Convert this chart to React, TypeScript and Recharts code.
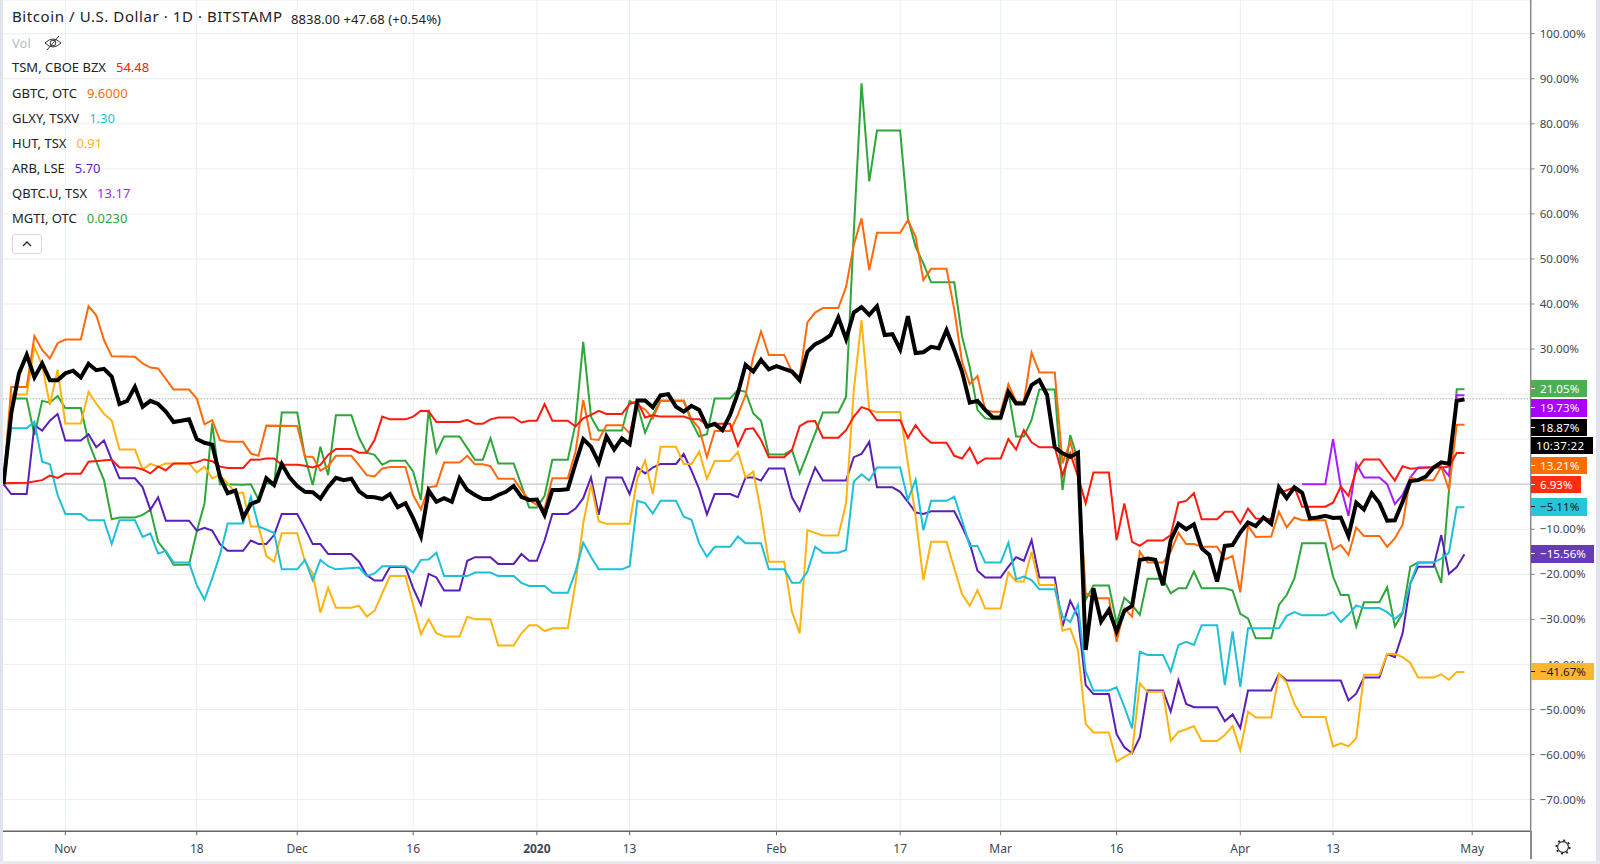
import { LineChart, Line, XAxis, YAxis, CartesianGrid, ReferenceLine } from 'recharts';

type Pt = [number, number];

// [day since 24 Oct 2019, % change]
const btc: Pt[] = [[0,0],[1,15.7],[2,24.6],[3,28.7],[4,23.7],[5,26.8],[6,23.1],[7,23.1],[8,24.6],[9,25.2],[10,23.7],[11,26.7],[12,25.3],[13,25.6],[14,23.9],[15,17.8],[16,18.5],[17,21.6],[18,17.2],[19,18.5],[20,17.8],[21,16.1],[22,13.8],[23,14.1],[24,14.4],[25,10],[26,9.2],[27,8.8],[28,1.7],[29,-2],[30,-1.4],[31,-7.4],[32,-4.4],[33,-3.7],[34,1.3],[35,-0.2],[36,4.5],[37,1.5],[38,-0.4],[39,-1.7],[40,-1.8],[41,-3.2],[42,-0.6],[43,1.4],[44,0.9],[45,1.2],[46,-1.6],[47,-2.8],[48,-2.9],[49,-3.3],[50,-2.2],[51,-5.1],[52,-4.2],[53,-7.6],[54,-11.6],[55,-1.4],[56,-3.9],[57,-3.1],[58,-3.9],[59,1.3],[60,-1.3],[61,-2.4],[62,-3.3],[63,-3.3],[64,-2.4],[65,-1.7],[66,-0.4],[67,-2.8],[68,-3.5],[69,-3.4],[70,-6.8],[71,-1.3],[72,-1.3],[73,-1.1],[74,4.6],[75,10],[76,8.3],[77,4.8],[78,10.6],[79,7.7],[80,10.2],[81,8.9],[82,18.6],[83,18.6],[84,17.1],[85,19.7],[86,20],[87,17.2],[88,16.1],[89,17.4],[90,16.5],[91,12.8],[92,13.4],[93,12],[94,15.4],[95,20.2],[96,26.5],[97,25],[98,27.6],[99,25.5],[100,26.2],[101,25.6],[102,25],[103,23.1],[104,29.4],[105,31.1],[106,31.9],[107,33.1],[108,37],[109,32.2],[110,38.1],[111,39.3],[112,37.6],[113,39.5],[114,33.1],[115,33.3],[116,29.9],[117,37.3],[118,29.1],[119,29.3],[120,30.5],[121,30.2],[122,34.2],[123,29.8],[124,25],[125,18.1],[126,18.5],[127,16.5],[128,14.8],[129,14.8],[130,20.5],[131,17.9],[132,17.9],[133,22],[134,23.1],[135,19.8],[136,8.2],[137,6.85],[138,6.1],[139,7],[140,-36.8],[141,-23.1],[142,-30.5],[143,-27.9],[144,-32.7],[145,-28.1],[146,-27],[147,-16.8],[148,-16.5],[149,-16.8],[150,-22.4],[151,-12.4],[152,-8.8],[153,-10],[154,-8.9],[155,-14.2],[156,-15.7],[157,-21.6],[158,-13.7],[159,-13.5],[160,-10.7],[161,-8.5],[162,-9.3],[163,-7.4],[164,-8.8],[165,-0.7],[166,-3.1],[167,-0.7],[168,-1.9],[169,-7.6],[170,-7.4],[171,-7],[172,-7.5],[173,-7.4],[174,-11.5],[175,-4.1],[176,-5.6],[177,-2],[178,-4.2],[179,-8.1],[180,-8],[181,-3.9],[182,0.7],[183,0.9],[184,1.7],[185,3.7],[186,4.85],[187,4.5],[188,18.5],[189,18.87]];

const tsm: Pt[] = [[0,0.2],[3,0.3],[5,0.9],[6,1.9],[7,1.4],[8,2.3],[10,2.3],[11,5],[14,5.4],[15,3.7],[17,3.7],[18,3.3],[19,2.4],[20,3.9],[21,3.1],[22,4.6],[24,4.6],[25,4.9],[26,5.5],[27,5.1],[28,3.9],[29,3.6],[31,3.6],[32,5.5],[33,5.4],[34,5.7],[35,5.7],[36,4.3],[38,4.3],[39,4.1],[40,3.7],[41,4.3],[42,6.5],[43,7.8],[45,7.8],[46,7],[47,7],[48,9.8],[49,15],[50,14.4],[52,14.4],[53,15],[54,16.3],[55,16.2],[56,13.8],[59,13.8],[60,14.3],[61,13.4],[62,13.4],[63,14.4],[64,14.8],[66,14.8],[67,13.7],[68,14.1],[69,14.1],[70,17.8],[71,14.1],[73,14.1],[74,12.8],[75,14.6],[76,15.4],[77,16.3],[78,15.6],[80,15.6],[81,17.8],[82,18.4],[83,14.8],[84,15.3],[85,15],[88,15],[89,14.4],[90,14.4],[91,13.2],[92,13.4],[94,13.4],[95,8.5],[96,12.2],[97,12.4],[98,9.8],[99,6],[101,6],[102,7.6],[103,12.9],[104,13.9],[105,14],[106,10.3],[108,10.3],[109,12],[110,15],[111,17.1],[112,16.5],[113,14.2],[116,14.2],[117,10.3],[118,13.1],[119,10.7],[120,9.2],[122,9.2],[123,6.3],[124,5.7],[125,8.1],[126,4.6],[127,5.7],[129,5.7],[130,10],[131,7.7],[132,12],[133,9.3],[134,8.2],[136,8.2],[137,2],[138,6.85],[139,1.7],[140,-4.25],[141,2.6],[143,2.6],[144,-12.4],[145,-4.25],[146,-12.8],[147,-13.7],[148,-12.5],[150,-12.5],[151,-11.3],[152,-4.1],[153,-3.7],[154,-2],[155,-7.8],[157,-7.8],[158,-6.1],[159,-6.1],[160,-8.7],[161,-5.4],[162,-7.6],[164,-7.7],[165,-2],[167,-0.7],[168,-5],[171,-5],[172,-4.1],[173,-0.55],[174,-2.6],[175,3.1],[176,5.5],[178,5.5],[179,3.1],[180,0.8],[181,4],[182,3.45],[184,3.7],[186,3.7],[187,3.9],[188,6.93],[189,6.93]];

const gbtc: Pt[] = [[0,0],[1,21.6],[3,21.6],[4,32.9],[5,29.8],[6,27.9],[7,31.3],[8,32.1],[10,32.1],[11,39.5],[12,37.5],[13,32],[14,28.4],[17,28.3],[18,26.8],[19,25.9],[20,25.7],[22,21],[24,21],[25,19],[26,13.3],[27,14.2],[28,9.8],[29,9.4],[31,9.4],[32,6.8],[33,6.3],[34,13],[38,12.9],[39,6.1],[40,6.1],[41,3],[42,4],[43,6.3],[45,6.3],[46,4.2],[47,2],[48,1.7],[49,3.5],[50,3.8],[52,3.8],[53,-2.4],[54,-5.6],[55,-0.7],[56,-0.4],[57,4.8],[59,4.8],[60,6.3],[61,4.4],[62,4.4],[63,4],[64,1.2],[66,1.2],[67,-1.3],[68,-3.5],[69,-4.6],[70,-5.4],[71,1.3],[73,1.3],[74,7.2],[75,18.7],[76,10],[77,9.8],[78,13.1],[80,13.1],[81,11.3],[82,17.6],[83,16.6],[84,14.6],[85,18.5],[88,18.5],[89,14.4],[90,12.4],[91,6],[92,11.8],[94,11.8],[95,15.4],[96,19.8],[97,28.3],[98,33.9],[99,28.7],[101,28.7],[102,25],[103,23.9],[104,35.9],[105,38.1],[106,39.1],[108,39.1],[109,43.8],[110,53.1],[111,59],[112,47.5],[113,55.8],[116,55.8],[117,58.6],[118,54.9],[119,45.3],[120,47.8],[122,47.8],[123,38.7],[124,27.2],[125,22.2],[126,24],[127,16.5],[128,16.1],[129,16.1],[130,22.2],[131,18.3],[132,18.3],[133,29.2],[134,24.8],[136,24.8],[137,4.6],[138,9.4],[139,3.15],[140,-24.2],[141,-25.3],[143,-25.3],[144,-35],[145,-27.6],[146,-29.4],[147,-15],[148,-17.4],[150,-17.4],[151,-15],[152,-10.8],[153,-13.3],[154,-13.3],[155,-13.9],[157,-13.9],[158,-16.7],[159,-15.9],[160,-24],[161,-9.2],[162,-11.7],[164,-11.6],[165,-6.1],[166,-9.6],[167,-7.4],[168,-8],[171,-8],[172,-14.5],[173,-13.5],[174,-15.7],[175,-9.6],[176,-11.5],[178,-11.5],[179,-13.9],[180,-12],[181,-9],[182,1.5],[183,0.9],[185,0.9],[186,3.9],[187,-1.3],[188,13.21],[189,13.21]];

const glxy: Pt[] = [[0,0],[1,12.4],[3,12.4],[4,13.9],[5,5],[6,4.4],[7,-2.4],[8,-6.6],[10,-6.6],[11,-8],[13,-8],[14,-13.3],[15,-8],[17,-8],[18,-11.7],[19,-10.9],[20,-15.4],[21,-14.8],[22,-17.4],[24,-17.4],[25,-22.4],[26,-25.6],[27,-20.9],[28,-15.7],[29,-8.7],[31,-8.7],[32,-2.8],[33,-9.4],[35,-10.8],[36,-18.9],[38,-18.9],[39,-16.8],[40,-21.3],[41,-16.8],[42,-18.2],[43,-18.9],[46,-18.5],[47,-20.4],[48,-19.8],[49,-18.2],[52,-18.2],[53,-19.6],[54,-16.8],[55,-16.7],[56,-15.2],[57,-20.4],[60,-20.4],[61,-19.6],[63,-19.6],[64,-20.4],[66,-20.4],[67,-21.9],[68,-22.6],[70,-22.6],[71,-24.1],[73,-24.1],[74,-19.4],[75,-13],[76,-16.1],[77,-18.9],[80,-18.9],[81,-18.2],[82,-3.7],[83,-4.2],[84,-6.5],[85,-3.7],[87,-3.7],[88,-7.2],[89,-7.9],[90,-13.2],[91,-16.1],[92,-13.9],[94,-13.9],[95,-11.6],[96,-13.1],[98,-13.1],[99,-18.9],[101,-18.9],[102,-21.9],[103,-21.9],[104,-19.4],[105,-13.9],[106,-15.2],[108,-15.2],[109,-14.6],[110,0.6],[111,2.2],[112,0.8],[113,3.7],[116,3.7],[117,-3.5],[118,1],[119,-10.2],[120,-3.7],[122,-3.7],[123,-2.8],[124,-8],[125,-13.7],[126,-13.7],[127,-17.4],[129,-17.4],[130,-13],[131,-21.1],[132,-20.5],[133,-21.3],[134,-23.3],[136,-23.3],[137,-29.4],[138,-30.6],[139,-26.8],[140,-41.6],[141,-45.8],[143,-45.8],[144,-45.1],[145,-49.4],[146,-54.2],[147,-37.2],[148,-37.9],[150,-37.9],[151,-41.6],[152,-35.7],[153,-35],[154,-35.7],[155,-31.3],[157,-31.3],[158,-44.6],[159,-32.7],[160,-45],[161,-32],[165,-32],[166,-29.2],[167,-28.4],[168,-29.1],[171,-29.1],[172,-28.4],[173,-30.6],[174,-29],[175,-26.9],[176,-27.5],[178,-27.5],[179,-28.4],[180,-29.9],[181,-28.4],[182,-22],[183,-17.4],[185,-17.4],[186,-16.5],[187,-15.2],[188,-5.11],[189,-5.11]];

const hut: Pt[] = [[0,0],[1,19.9],[3,19.9],[4,30.5],[5,26.4],[6,17.6],[7,25.4],[8,13.5],[10,13.5],[11,20.5],[12,17.9],[13,15.6],[14,14.1],[15,7.7],[17,7.7],[18,3.3],[19,4.5],[20,3.9],[21,4.6],[24,4.6],[25,2.6],[26,3.9],[27,1.3],[28,2],[29,0.2],[30,-1.9],[31,-1.9],[32,-9.4],[33,-9.4],[34,-15.9],[35,-17.2],[36,-10.9],[38,-10.9],[39,-17.2],[40,-19.8],[41,-28.5],[42,-23],[43,-27.4],[45,-27.4],[46,-27],[47,-29.4],[48,-28.1],[49,-24.2],[50,-20.4],[52,-20.4],[53,-26.8],[54,-33.3],[55,-30],[56,-33.1],[57,-33.8],[59,-33.8],[60,-29.4],[61,-30],[63,-30],[64,-35.8],[66,-35.8],[67,-33.1],[68,-31.3],[69,-31.3],[70,-32.6],[71,-32],[73,-32],[74,-22],[75,-8.7],[76,0],[77,-8.2],[78,-8.8],[81,-8.8],[82,1.3],[83,5.2],[84,-2.2],[85,8.3],[87,8.3],[88,4.5],[89,4.5],[90,7.2],[91,1.2],[92,5.15],[94,5.15],[95,7.15],[96,1.5],[97,2.8],[98,-6.3],[99,-17.2],[101,-17.2],[102,-28.3],[103,-33.1],[104,-10.2],[105,-10.8],[106,-11.4],[108,-11.4],[109,-4.25],[110,20.9],[111,36.4],[112,16.5],[113,16],[116,16],[117,4.6],[118,-7.2],[119,-21.3],[120,-12.8],[122,-12.8],[123,-18.7],[124,-24.4],[125,-27],[126,-23.5],[127,-27.6],[129,-27.6],[130,-19.6],[131,-21.6],[132,-21.6],[133,-15],[134,-22.4],[136,-22.4],[137,-32.5],[138,-32],[139,-36.8],[140,-53.2],[141,-55.1],[143,-55.1],[144,-61.6],[145,-60.5],[146,-59.6],[147,-44.2],[148,-46.1],[150,-46.1],[151,-57],[152,-55],[153,-54.4],[154,-53.7],[155,-57],[157,-57],[158,-55.7],[159,-53.7],[160,-59],[161,-50.5],[162,-51.8],[164,-51.8],[165,-42.1],[166,-44],[167,-48.8],[168,-51.7],[171,-51.7],[172,-58.2],[173,-57.5],[174,-58.2],[175,-56.4],[176,-42.3],[178,-42.3],[179,-37.7],[180,-37.7],[181,-38.4],[182,-39.7],[183,-42.9],[185,-42.9],[186,-42.2],[187,-43.4],[188,-41.67],[189,-41.67]];

const arb: Pt[] = [[0,0],[1,-2.2],[3,-2.2],[4,13.1],[5,11.9],[6,14.1],[7,15.6],[8,9.7],[10,9.7],[11,11.1],[12,8.2],[13,9.7],[14,5.4],[15,1.3],[17,1.3],[18,-0.7],[19,-5.7],[20,-2.9],[21,-8.1],[24,-8.1],[25,-10.3],[26,-9.7],[27,-10.3],[28,-13.3],[29,-14.8],[31,-14.8],[32,-12.5],[33,-13.3],[34,-13.3],[35,-11.3],[36,-6.6],[38,-6.6],[39,-9.8],[40,-13.3],[41,-13.3],[42,-15.5],[45,-15.5],[46,-17.2],[47,-20.2],[48,-21.4],[49,-21.4],[50,-18.4],[52,-18.4],[53,-23.1],[54,-26.8],[55,-19.9],[56,-20.7],[57,-23.6],[59,-23.6],[60,-17],[61,-16.2],[63,-16.2],[64,-17.7],[66,-17.7],[67,-15.5],[68,-17],[69,-17],[70,-12.5],[71,-6.6],[73,-6.6],[74,-5.4],[75,-3.1],[76,1.5],[77,-6.8],[78,1.5],[80,1.5],[81,-2.2],[82,3.7],[83,2.4],[84,3.7],[85,4.5],[87,4.5],[88,6.7],[89,3],[90,-1.1],[91,-6.7],[92,-2.2],[94,-2.2],[95,-2.9],[96,1.5],[97,1.5],[98,0.8],[99,3.5],[101,3.5],[102,-2.9],[103,-5.9],[104,-0.9],[105,3.7],[106,0.8],[109,0.8],[110,6],[111,6.7],[112,9.4],[113,-0.7],[115,-0.7],[116,-1.7],[117,-3.9],[118,-6.3],[119,-6.6],[120,-6],[123,-6],[124,-9.4],[125,-13.1],[126,-19.2],[127,-20.7],[129,-20.7],[130,-18.3],[131,-16.2],[132,-17],[133,-12.4],[134,-20.7],[136,-20.7],[137,-31.6],[138,-25.85],[139,-29.4],[140,-44.6],[141,-46.6],[143,-46.6],[144,-55.5],[145,-58.4],[146,-59.7],[147,-56.2],[148,-45.8],[150,-45.8],[151,-50.5],[152,-43.5],[153,-48.8],[154,-49.5],[157,-49.5],[158,-52.6],[159,-51.1],[160,-54.1],[161,-45.8],[164,-45.8],[165,-42.1],[166,-43.6],[173,-43.6],[174,-48],[175,-46.5],[176,-42.9],[178,-42.9],[179,-37.7],[180,-38.4],[181,-33.1],[182,-22],[183,-18.3],[185,-18.3],[186,-11.3],[187,-19.9],[188,-18.4],[189,-15.56]];

const qbtc: Pt[] = [[168,0],[171,0],[172,10],[173,-0.55],[174,-7.05],[175,4.6],[176,1.5],[178,1.5],[179,0],[180,-4.4],[181,-2.4],[182,1.5],[183,3.7],[185,3.7],[186,3.9],[187,1.8],[188,19.73],[189,19.73]];

const mgti: Pt[] = [[0,0],[1,19],[3,19],[4,10.9],[5,18.5],[6,18.1],[7,19.6],[8,16.9],[10,16.9],[11,9.4],[12,5],[13,0.9],[14,-7.8],[15,-7.4],[17,-7.4],[18,-6.8],[19,-5.7],[20,-12.8],[21,-15],[22,-17.9],[24,-17.9],[25,-10.5],[26,-4.3],[27,13.5],[28,0],[31,-0.1],[32,0],[33,-3.5],[34,0.3],[35,-0.2],[36,15.9],[38,15.9],[39,6.1],[40,-0.2],[41,8.3],[42,2],[43,15.3],[45,15.3],[46,10.3],[47,7],[48,6.5],[49,4.3],[50,5.2],[52,5.2],[53,2.8],[54,-3.5],[55,16.5],[56,7],[57,10.6],[59,10.6],[60,8],[61,5.4],[62,5.4],[63,10.2],[64,4.6],[66,4.6],[67,-0.2],[68,-5.2],[69,-5.2],[70,-2.6],[71,5.4],[73,5.4],[74,13.5],[75,31.6],[76,15],[77,11.9],[80,11.9],[81,18.5],[82,17.6],[83,11.4],[84,15.4],[85,18.5],[88,18.5],[89,13.9],[90,10.6],[91,11.1],[92,19],[94,19],[95,20.9],[96,20.5],[97,15.7],[98,14.1],[99,6.6],[101,6.6],[102,7.6],[103,2.4],[104,6.85],[105,11.3],[106,15.9],[108,15.9],[109,19.4],[110,56],[111,89],[112,67.2],[113,78.5],[116,78.5],[117,59],[118,52.7],[119,49],[120,44.8],[123,44.8],[124,32.8],[125,26],[126,16.5],[127,14.6],[128,14.4],[129,14.4],[130,20.5],[131,10.6],[132,10.6],[133,14.25],[134,21],[136,21],[137,-1.3],[138,10.9],[139,5.4],[140,-25.7],[141,-22.5],[143,-22.5],[144,-30.9],[145,-25.2],[146,-26.8],[147,-29],[148,-21],[150,-21],[151,-24.2],[152,-23.1],[153,-23.1],[154,-19.4],[155,-23.1],[158,-23.1],[159,-23.6],[160,-28.8],[161,-29.8],[162,-34.2],[164,-34.2],[165,-26.8],[166,-24.6],[167,-20.9],[168,-13.1],[171,-13.1],[172,-20.5],[173,-24.6],[174,-24.6],[175,-31.6],[176,-26.2],[178,-26.2],[179,-22.9],[180,-31.6],[181,-28.6],[182,-18.3],[183,-17.4],[185,-17.4],[186,-21.9],[187,-1.3],[188,21.05],[189,21.05]];

const yTicks = [100, 90, 80, 70, 60, 50, 40, 30, 20, 10, 0, -10, -20, -30, -40, -50, -60, -70];
// these tick labels sit fully under the price tags in the reference
const hiddenYLabels = [20, 10, 0];
const xTicks = [8, 25, 38, 53, 69, 81, 100, 116, 129, 144, 160, 172, 190];
const xLabels = ['Nov', '18', 'Dec', '16', '2020', '13', 'Feb', '17', 'Mar', '16', 'Apr', '13', 'May'];

const series = [
    { name: 'MGTI', data: mgti, color: '#2fa639' },
    { name: 'QBTC', data: qbtc, color: '#aa1cff' },
    { name: 'ARB', data: arb, color: '#5a1fb8' },
    { name: 'HUT', data: hut, color: '#ffb30f' },
    { name: 'GLXY', data: glxy, color: '#1fbfd9' },
    { name: 'GBTC', data: gbtc, color: '#ff6a0d' },
    { name: 'TSM', data: tsm, color: '#ff1a0d' },
];

const legend = [
    { top: 68, name: 'TSM, CBOE BZX', value: '54.48', color: '#ff1a0d' },
    { top: 94, name: 'GBTC, OTC', value: '9.6000', color: '#ff6a0d' },
    { top: 119, name: 'GLXY, TSXV', value: '1.30', color: '#1fbfd9' },
    { top: 144, name: 'HUT, TSX', value: '0.91', color: '#ffb30f' },
    { top: 169, name: 'ARB, LSE', value: '5.70', color: '#5a1fb8' },
    { top: 194, name: 'QBTC.U, TSX', value: '13.17', color: '#aa1cff' },
    { top: 219, name: 'MGTI, OTC', value: '0.0230', color: '#2fa639' },
];

const priceTags = [
    { center: 388.7, text: '21.05%', bg: '#4caf50', fg: '#fff' },
    { center: 408, text: '19.73%', bg: '#aa00ff', fg: '#fff' },
    { center: 427.2, text: '18.87%', bg: '#000', fg: '#fff' },
    { center: 445.4, text: '10:37:22', bg: '#000', fg: '#fff', pad: 5, noTick: true },
    { center: 465.4, text: '13.21%', bg: '#ff6d00', fg: '#fff' },
    { center: 484.8, text: '6.93%', bg: '#ff2d0d', fg: '#fff' },
    { center: 507, text: '−5.11%', bg: '#26c6da', fg: '#131722' },
    { center: 554, text: '−15.56%', bg: '#673ab7', fg: '#fff' },
    { center: 671.5, text: '−41.67%', bg: '#ffb52e', fg: '#131722' },
];

const FONT = '"Noto Sans", sans-serif';
const TEXT = '#434651';

const toRows = (pts: Pt[]) => pts.map(([d, v]) => ({ d, v }));
const formatY = (v: number) => {
    if (hiddenYLabels.includes(v)) return '';
    return v < 0 ? `−${Math.abs(v)}.00%` : `${v}.00%`;
};

const XTick = ({ x, y, payload }: any) => {
    const label = xLabels[xTicks.indexOf(payload.value)];
    return (
        <text x={x} y={y + 16} textAnchor="middle" fontSize={12} fontFamily={FONT} fill={TEXT}
            fontWeight={label === '2020' ? 700 : 400}>{label}</text>
    );
};

const App = () => (
    <div style={{ position: 'absolute', left: 0, top: 0, width: 1600, height: 864, background: '#fff', overflow: 'hidden', fontFamily: FONT }}>
        <LineChart width={1600} height={864} margin={{ top: 0, right: 0, bottom: 0, left: 0 }}>
            <CartesianGrid stroke="#e9eff3" strokeWidth={1} />
            <XAxis type="number" dataKey="d" domain={[-0.453, 197.57]} ticks={xTicks} height={32.7} interval={0}
                tick={<XTick />} tickLine={{ stroke: '#666' }} tickSize={4} axisLine={{ stroke: '#666', strokeWidth: 1.5 }} allowDataOverflow />
            <YAxis type="number" orientation="right" domain={[-77.05, 107.48]} ticks={yTicks} width={69.3} interval={0}
                tickFormatter={formatY} tick={{ fontSize: 11.6, fontFamily: FONT, fill: TEXT }} tickLine={{ stroke: '#888' }}
                tickSize={4} tickMargin={5} axisLine={{ stroke: '#8a8a8a', strokeWidth: 1.5 }} allowDataOverflow />
            <ReferenceLine y={0} stroke="#c8cbd0" strokeWidth={1.2} />
            <ReferenceLine y={18.95} stroke="#8a8a8a" strokeDasharray="1 2" strokeWidth={1} />
            {series.map(s => (
                <Line key={s.name} data={toRows(s.data)} dataKey="v" name={s.name} stroke={s.color} strokeWidth={2}
                    dot={false} activeDot={false} isAnimationActive={false} strokeLinejoin="miter" />
            ))}
            <Line data={toRows(btc)} dataKey="v" name="BTC" stroke="#000" strokeWidth={4} dot={false} activeDot={false}
                isAnimationActive={false} strokeLinejoin="miter" />
        </LineChart>

        {/* frame strips */}
        <div style={{ position: 'absolute', left: 0, top: 0, width: 2.5, height: 864, background: '#e0e3eb' }} />
        <div style={{ position: 'absolute', left: 1596, top: 0, width: 4, height: 864, background: '#e0e3eb' }} />
        <div style={{ position: 'absolute', left: 0, top: 860.5, width: 1600, height: 3.5, background: '#e8eaf0' }} />

        {/* header */}
        <div style={{ position: 'absolute', left: 12, top: 6, fontSize: 15, color: '#222', letterSpacing: 0.58, whiteSpace: 'nowrap' }}>
            Bitcoin / U.S. Dollar · 1D · BITSTAMP
        </div>
        <div style={{ position: 'absolute', left: 291, top: 10, fontSize: 13, color: '#222', letterSpacing: 0.12, whiteSpace: 'nowrap' }}>
            8838.00 +47.68 (+0.54%)
        </div>
        <div style={{ position: 'absolute', left: 12, top: 34, fontSize: 13, color: '#b8bcc4' }}>Vol</div>
        <svg style={{ position: 'absolute', left: 43, top: 33 }} width={20} height={20}>
            <path d="M2 10 Q10 2 18 10 Q10 18 2 10 Z" fill="none" stroke="#333" strokeWidth={1} />
            <circle cx={10} cy={10} r={2.8} fill="none" stroke="#333" strokeWidth={1} />
            <line x1={4} y1={17} x2={16} y2={3} stroke="#333" strokeWidth={1} />
        </svg>
        {legend.map(l => (
            <div key={l.name} style={{ position: 'absolute', left: 12, top: l.top - 10, fontSize: 13, color: '#222', whiteSpace: 'nowrap' }}>
                {l.name}<span style={{ color: l.color, marginLeft: 10 }}>{l.value}</span>
            </div>
        ))}
        <div style={{ position: 'absolute', left: 12, top: 234, width: 28, height: 18, border: '1px solid #d6d8de', borderRadius: 3 }}>
            <svg width={28} height={18}><path d="M10 11 L14 7 L18 11" fill="none" stroke="#222" strokeWidth={1.3} /></svg>
        </div>

        {/* price tags */}
        {priceTags.map(t => (
            <div key={t.text} style={{
                position: 'absolute', left: 1531, top: t.center - 8.7, height: 17.4, background: t.bg, color: t.fg,
                fontSize: 11.6, lineHeight: '17.4px', paddingLeft: t.pad ?? 9, paddingRight: t.pad ? 9 : 8, whiteSpace: 'nowrap',
                letterSpacing: t.pad ? 0.3 : 0,
            }}>
                {!t.noTick && <span style={{ position: 'absolute', left: 0, top: 8.2, width: 3.5, height: 1, background: t.fg }} />}
                {t.text}
            </div>
        ))}

        {/* settings */}
        <svg style={{ position: 'absolute', left: 1554, top: 838 }} width={18} height={18}>
            <circle cx={9} cy={9} r={5.4} fill="none" stroke="#222" strokeWidth={1.1} />
            <circle cx={9} cy={9} r={6.8} fill="none" stroke="#222" strokeWidth={1.6} strokeDasharray="2 3.34" />
        </svg>
        <div style={{ position: 'absolute', left: 1530, top: 831, width: 1.5, height: 28, background: '#8a8a8a' }} />
    </div>
);

export default App;
